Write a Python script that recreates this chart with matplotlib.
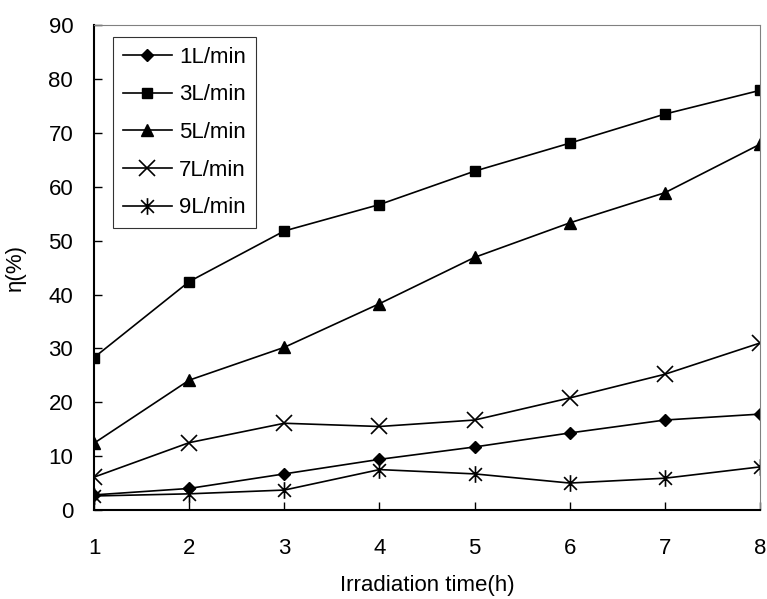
import matplotlib
matplotlib.use("Agg")
import matplotlib.pyplot as plt
from matplotlib.path import Path

plt.rcParams['font.family'] = ['Liberation Sans', 'DejaVu Sans']

# tempo de irradiação (h)
horas = [1, 2, 3, 4, 5, 6, 7, 8]

# eficiência η(%) por vazão
v1 = [2.8, 4.0, 6.7, 9.4, 11.7, 14.3, 16.7, 17.8]
v3 = [28.3, 42.4, 51.8, 56.7, 62.9, 68.1, 73.5, 77.9]
v5 = [12.4, 24.1, 30.2, 38.3, 46.9, 53.3, 58.9, 67.9]
v7 = [6.1, 12.5, 16.1, 15.5, 16.7, 20.8, 25.2, 31.0]
v9 = [2.6, 3.0, 3.7, 7.5, 6.7, 5.0, 5.9, 8.0]

rotulos = ['1L/min', '3L/min', '5L/min', '7L/min', '9L/min']

# asterisco estilo excel: X + traço vertical
asterisco = Path([(-1, -1), (1, 1), (-1, 1), (1, -1), (0, -1.3), (0, 1.3)],
                 [Path.MOVETO, Path.LINETO, Path.MOVETO, Path.LINETO, Path.MOVETO, Path.LINETO])

fig = plt.figure(figsize=(7.67, 5.99), dpi=100)
ax = fig.add_axes([0.1226, 0.1486, 0.8684, 0.8094])

lw = 1.2
ax.plot(horas, v1, color='black', lw=lw, marker='D', ms=6, label=rotulos[0])
ax.plot(horas, v3, color='black', lw=lw, marker='s', ms=7, label=rotulos[1])
ax.plot(horas, v5, color='black', lw=lw, marker='^', ms=8, label=rotulos[2])
ax.plot(horas, v7, color='black', lw=lw, marker='x', ms=12, mew=1.2, label=rotulos[3])
ax.plot(horas, v9, color='black', lw=lw, marker=asterisco, ms=12, mew=1.2, mfc='none', label=rotulos[4])

ax.set_xlim(1, 8)
ax.set_ylim(0, 90)
ax.set_xticks(horas)
ax.set_yticks(range(0, 91, 10))
ax.tick_params(direction='in', labelsize=16, length=6, width=1, colors='black')
ax.tick_params(axis='x', pad=20)
ax.tick_params(axis='y', pad=15)

for s in ['top', 'right']:
    ax.spines[s].set_color('#808080')
for s in ['left', 'bottom']:
    ax.spines[s].set_color('black')
    ax.spines[s].set_linewidth(1.5)

ax.set_xlabel('Irradiation time(h)', fontsize=16, labelpad=12)
ax.set_ylabel('η(%)', fontsize=16, labelpad=16)

leg = ax.legend(loc='upper left', bbox_to_anchor=(0.028, 0.976), fontsize=16, frameon=True,
                fancybox=False, edgecolor='black', handlelength=2.2, labelspacing=0.75,
                borderpad=0.45, handletextpad=0.35, borderaxespad=0)
leg.get_frame().set_linewidth(0.8)

fig.savefig('out.png', dpi=100)
